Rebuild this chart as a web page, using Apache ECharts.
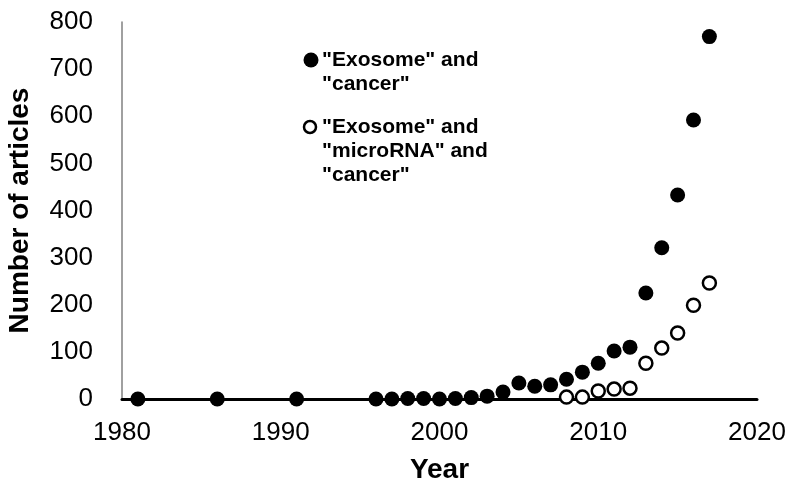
<!DOCTYPE html>
<html>
<head>
<meta charset="utf-8">
<script src="https://cdn.jsdelivr.net/npm/echarts@6/dist/echarts.min.js"></script>
<style>
html, body { margin: 0; padding: 0; background: #fff; }
#chart { width: 800px; height: 490px; }
</style>
</head>
<body>
<div id="chart"></div>
<script>
// years and article counts
var yearsCancer = [1981, 1986, 1991, 1996, 1997, 1998, 1999, 2000, 2001, 2002, 2003, 2004, 2005, 2006, 2007, 2008, 2009, 2010, 2011, 2012, 2013, 2014, 2015, 2016, 2017];
var countCancer = [0, 0, 0, 0, 0, 1, 1, 0, 1, 3, 6, 15, 34, 27, 30, 42, 57, 76, 102, 110, 225, 321, 433, 592, 769];
var yearsMirna = [2008, 2009, 2010, 2011, 2012, 2013, 2014, 2015, 2016, 2017];
var countMirna = [4, 4, 17, 21, 23, 76, 108, 140, 199, 246];
var legendCancer = '"Exosome" and\n"cancer"';
var legendMirna = '"Exosome" and\n"microRNA" and\n"cancer"';

var font = "'Liberation Sans', Arial, sans-serif";

function pairs(xs, ys) {
	var out = [];
	for (var i = 0; i < xs.length; i++) out.push([xs[i], ys[i]]);
	return out;
}

var chart = echarts.init(document.getElementById('chart'));
chart.setOption({
	animation: false,
	backgroundColor: '#fff',
	grid: { left: 122, right: 43, top: 22, bottom: 91, containLabel: false, outerBoundsMode: 'none' },
	xAxis: {
		type: 'value',
		min: 1980,
		max: 2020,
		interval: 10,
		name: 'Year',
		nameLocation: 'middle',
		nameGap: 57,
		nameTextStyle: { fontFamily: font, fontSize: 28, fontWeight: 'bold', color: '#000' },
		axisLine: { show: true, lineStyle: { color: '#000', width: 3 } },
		axisTick: { show: false },
		splitLine: { show: false },
		axisLabel: { fontFamily: font, fontSize: 26, color: '#000', margin: 21, formatter: function(v) { return String(v); } }
	},
	yAxis: {
		type: 'value',
		min: 0,
		max: 800,
		interval: 100,
		name: 'Number of articles',
		nameLocation: 'middle',
		nameGap: 88,
		nameTextStyle: { fontFamily: font, fontSize: 28, fontWeight: 'bold', color: '#000' },
		axisLine: { show: true, lineStyle: { color: '#808080', width: 1.5 } },
		axisTick: { show: false },
		splitLine: { show: false },
		axisLabel: { fontFamily: font, fontSize: 26, color: '#000', margin: 29 }
	},
	graphic: [
		{ type: 'circle', shape: { cx: 311, cy: 60, r: 7.5 }, style: { fill: '#000' } },
		{ type: 'text', x: 322, y: 48, style: { text: legendCancer, font: 'bold 21px ' + font, lineHeight: 24, fill: '#000' } },
		{ type: 'circle', shape: { cx: 310, cy: 127, r: 6 }, style: { fill: '#fff', stroke: '#000', lineWidth: 2.5 } },
		{ type: 'text', x: 322, y: 115, style: { text: legendMirna, font: 'bold 21px ' + font, lineHeight: 24, fill: '#000' } }
	],
	series: [
		{
			name: legendCancer,
			type: 'scatter',
			symbol: 'circle',
			symbolSize: 15,
			itemStyle: { color: '#000', opacity: 1 },
			data: pairs(yearsCancer, countCancer)
		},
		{
			name: legendMirna,
			type: 'scatter',
			symbol: 'circle',
			symbolSize: 13,
			itemStyle: { color: '#fff', borderColor: '#000', borderWidth: 2.5, opacity: 1 },
			data: pairs(yearsMirna, countMirna)
		}
	]
});
</script>
</body>
</html>
